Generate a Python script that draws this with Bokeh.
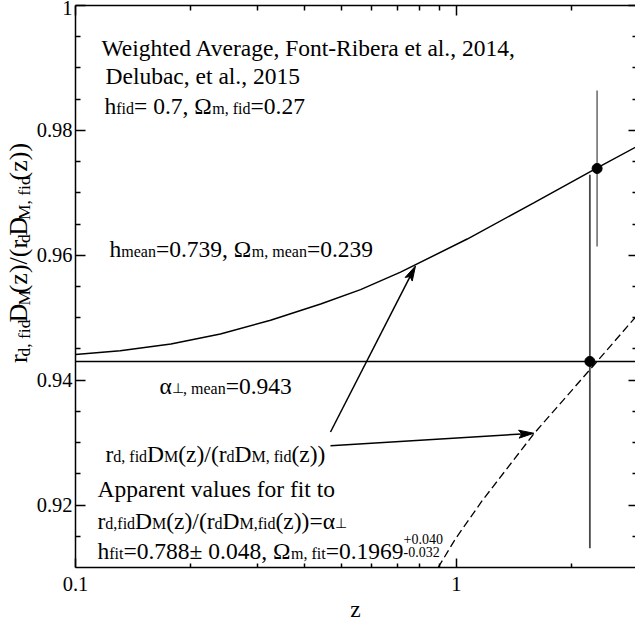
import math
from bokeh.plotting import figure
from bokeh.layouts import row
from bokeh.models import FixedTicker, LogAxis, LinearAxis, Label, CustomJSTickFormatter
from bokeh.embed import file_html
from bokeh.resources import INLINE

# ---------------- data ----------------
curve_z = [0.1, 0.131, 0.178, 0.24, 0.325, 0.44, 0.56, 0.713, 1.067, 1.595, 2.34, 2.95]
curve_y = [0.9441, 0.9447, 0.9458, 0.9474, 0.9496, 0.9522, 0.9545, 0.9573, 0.9626, 0.9684, 0.9740, 0.9773]

fit_z = [0.895, 0.994, 1.168, 1.595, 2.339, 2.95]
fit_y = [0.9100, 0.9146, 0.9207, 0.9314, 0.9430, 0.9501]

alpha_mean = 0.943

point_z = [2.239, 2.339]
point_y = [0.9430, 0.9739]
point_err = [0.0299, 0.0125]
point_err_colors = ["#4a4a4a", "#808080"]

arrow_start_z = [0.467, 0.467]
arrow_start_y = [0.9317, 0.9295]
arrow_end_z = [0.7806, 1.5955]
arrow_end_y = [0.9583, 0.9315]

x_ticks = [0.1, 1.0]
x_tick_labels = ["0.1", "1"]
x_minor = [0.2, 0.3, 0.4, 0.5, 0.6, 0.7, 0.8, 0.9, 2.0, 3.0]
y_ticks = [0.92, 0.94, 0.96, 0.98, 1.0]
y_tick_labels = ["0.92", "0.94", "0.96", "0.98", "1"]
y_minor = [0.915, 0.925, 0.93, 0.935, 0.945, 0.95, 0.955, 0.965, 0.97, 0.975, 0.985, 0.99, 0.995]
x_title = "z"

X0, X1 = 0.1, 2.95
Y0, Y1 = 0.91, 1.0
FONT = "Liberation Serif"
LW = 33  # width of the strip that holds the rotated y title

# ---------------- main figure ----------------
p = figure(width=635 - LW, height=625, x_axis_type="log", x_range=(X0, X1), y_range=(Y0, Y1),
           output_backend="svg", toolbar_location=None,
           min_border_left=75 - LW, min_border_right=0, min_border_top=5, min_border_bottom=58)
p.outline_line_color = None
p.grid.visible = False
p.background_fill_color = "white"
p.border_fill_color = "white"

LOOKUP = """
let best = 0, bd = Infinity;
for (let i = 0; i < tvals.length; i++) {
  const d = Math.abs(tvals[i] - tick);
  if (d < bd) { bd = d; best = i; }
}
return ttext[best];
"""

def style_axis(ax, major_in, minor_in, labels=None, ticks=None):
    ax.axis_line_width = 1.5
    ax.axis_line_color = "black"
    ax.major_tick_line_width = 1.5
    ax.minor_tick_line_width = 1.5
    ax.major_tick_line_color = "black"
    ax.minor_tick_line_color = "black"
    ax.major_tick_in = major_in
    ax.major_tick_out = 0
    ax.minor_tick_in = minor_in
    ax.minor_tick_out = 0
    if labels is not None:
        ax.formatter = CustomJSTickFormatter(args=dict(tvals=ticks, ttext=labels), code=LOOKUP)
        ax.major_label_text_font = FONT
        ax.major_label_text_font_size = "20.5px"
        ax.major_label_text_color = "black"
    else:
        ax.formatter = CustomJSTickFormatter(code="return '';")
        ax.major_label_text_font_size = "1px"
        ax.major_label_standoff = 0

xax = p.xaxis[0]
xax.ticker = FixedTicker(ticks=x_ticks, minor_ticks=x_minor)
style_axis(xax, 9, 4, x_tick_labels, x_ticks)
xax.major_label_standoff = 9
xax.axis_label = x_title
xax.axis_label_text_font = FONT
xax.axis_label_text_font_size = "23.5px"
xax.axis_label_text_font_style = "normal"
xax.axis_label_text_color = "black"
xax.axis_label_standoff = 2

yax = p.yaxis[0]
yax.ticker = FixedTicker(ticks=y_ticks, minor_ticks=y_minor)
style_axis(yax, 10, 5, y_tick_labels, y_ticks)
yax.major_label_standoff = 3

top = LogAxis(ticker=FixedTicker(ticks=x_ticks, minor_ticks=x_minor))
style_axis(top, 10, 5)
p.add_layout(top, "above")

right = LinearAxis(ticker=FixedTicker(ticks=y_ticks, minor_ticks=y_minor))
style_axis(right, 7, 3)
right.axis_line_color = None
p.add_layout(right, "right")

# ---------------- marks ----------------
p.line(curve_z, curve_y, line_color="black", line_width=1.5)
p.line(fit_z, fit_y, line_color="black", line_width=1.3, line_dash="8 4")
p.line([X0, X1], [alpha_mean, alpha_mean], line_color="black", line_width=1.5)

lo = [y - e for y, e in zip(point_y, point_err)]
hi = [y + e for y, e in zip(point_y, point_err)]
p.segment(x0=point_z, y0=lo, x1=point_z, y1=hi, line_color=point_err_colors, line_width=1.8)
p.scatter(point_z, point_y, size=10, marker="circle", fill_color="black", line_color="black")

# pixel helpers for annotations (page pixels)
FL, FR, FT, FB = 75.0, 635.0, 5.0, 567.0
LX0, LX1 = math.log10(X0), math.log10(X1)

def to_px(z, y):
    px = FL + (math.log10(z) - LX0) / (LX1 - LX0) * (FR - FL)
    py = FT + (Y1 - y) / (Y1 - Y0) * (FB - FT)
    return px, py

def to_data(px, py):
    z = 10 ** (LX0 + (px - FL) / (FR - FL) * (LX1 - LX0))
    y = Y1 - (py - FT) / (FB - FT) * (Y1 - Y0)
    return z, y

# arrows
for sz, sy, ez, ey in zip(arrow_start_z, arrow_start_y, arrow_end_z, arrow_end_y):
    x0, y0 = to_px(sz, sy)
    x1, y1 = to_px(ez, ey)
    L = math.hypot(x1 - x0, y1 - y0)
    dx, dy = (x1 - x0) / L, (y1 - y0) / L
    nx, ny = -dy, dx
    hl, hw, notch = 15.0, 4.0, 3.0
    bx, by = x1 - (hl - notch) * dx, y1 - (hl - notch) * dy
    lz, ly = to_data(bx, by)
    p.line([sz, lz], [sy, ly], line_color="black", line_width=1.5)
    pts = [(x1, y1),
           (x1 - hl * dx + hw * nx, y1 - hl * dy + hw * ny),
           (bx, by),
           (x1 - hl * dx - hw * nx, y1 - hl * dy - hw * ny)]
    dpts = [to_data(a, b) for a, b in pts]
    p.patch([q[0] for q in dpts], [q[1] for q in dpts], fill_color="black", line_color="black", line_width=1)

# ---------------- strip for the rotated y title ----------------
ylab = figure(width=LW, height=625, x_range=(0, LW), y_range=(625, 0),
              output_backend="svg", toolbar_location=None,
              x_axis_location=None, y_axis_location=None,
              min_border_left=0, min_border_right=0, min_border_top=0, min_border_bottom=0)
ylab.outline_line_color = None
ylab.grid.visible = False
ylab.background_fill_color = "white"
ylab.border_fill_color = "white"

# ---------------- rich text ----------------
W = {' ': 0.25, ',': 0.25, '.': 0.25, '=': 0.564, '+': 0.564, '-': 0.333, '\u00b1': 0.549,
     '(': 0.333, ')': 0.333, '/': 0.278,
     'a': 0.444, 'b': 0.5, 'c': 0.444, 'd': 0.5, 'e': 0.444, 'f': 0.333, 'g': 0.5, 'h': 0.5,
     'i': 0.278, 'l': 0.278, 'm': 0.778, 'n': 0.5, 'o': 0.5, 'p': 0.5, 'r': 0.333, 's': 0.389,
     't': 0.278, 'u': 0.5, 'v': 0.5, 'z': 0.444, 'A': 0.722, 'D': 0.722, 'F': 0.556,
     'M': 0.889, 'R': 0.667, 'W': 0.944, '\u03a9': 0.768, '\u03b1': 0.54, '\u22a5': 0.80}
for c in "0123456789":
    W[c] = 0.5

def tw(s, size):
    return sum(W.get(c, 0.5) for c in s) * size

def put(text, px, py, size, angle=0.0, align="left", baseline="alphabetic", fig=None):
    if fig is None:
        fig, (x, y) = p, to_data(px, py)
    else:
        x, y = px, py
    fig.add_layout(Label(x=x, y=y, text=text, text_font=FONT, text_font_size=f"{size}px",
                         text_color="black", text_baseline=baseline, text_align=align,
                         angle=angle))

def rich(runs, px, py, main=23.5, sub=16.0, drop=3.0, angle=0.0, fig=None):
    cur = 0.0
    for item in runs:
        text, kind = item[0], item[1]
        if kind == "stack":
            sup_t, sub_t, ssz = item[2], item[3], item[4]
            put(sup_t, px + cur, py - 12, ssz, fig=fig)
            put(sub_t, px + cur, py + 1, ssz, fig=fig)
            cur += max(tw(sup_t, ssz), tw(sub_t, ssz))
            continue
        size = main if kind == "n" else sub
        if len(item) > 2:
            size = item[2]
        d = 0.0 if kind == "n" else drop
        w = tw(text, size)
        if angle == 0.0:
            put(text, px + cur, py + d, size, fig=fig)
        else:
            # centre each rotated run on its own box, so that alignment is unambiguous
            cx = px + d - 0.3375 * size
            cy = py - cur - w / 2.0
            put(text, cx, cy, size, angle=angle, align="center", baseline="middle", fig=fig)
        cur += w

PERP = 13.5
rich([("Weighted Average, Font-Ribera et al., 2014,", "n")], 101, 47)
rich([("Delubac, et al., 2015", "n")], 105, 75)
rich([("h", "n"), ("fid", "s"), ("= 0.7, \u03a9", "n"), ("m, fid", "s"), ("=0.27", "n")], 104, 105)
rich([("h", "n"), ("mean", "s"), ("=0.739, \u03a9", "n"), ("m, mean", "s"), ("=0.239", "n")], 109, 248)
rich([("\u03b1", "n"), ("\u22a5", "s", PERP), (", mean", "s"), ("=0.943", "n")], 159, 385)
rich([("r", "n"), ("d, fid", "s"), ("D", "n"), ("M", "s"), ("(z)/(r", "n"), ("d", "s"),
      ("D", "n"), ("M, fid", "s"), ("(z))", "n")], 105, 453)
rich([("Apparent values for fit to", "n")], 97, 488)
rich([("r", "n"), ("d,fid", "s"), ("D", "n"), ("M", "s"), ("(z)/(r", "n"), ("d", "s"),
      ("D", "n"), ("M,fid", "s"), ("(z))=\u03b1", "n"), ("\u22a5", "s", PERP)], 97, 520)
rich([("h", "n"), ("fit", "s"), ("=0.788\u00b1 0.048, \u03a9", "n"), ("m, fit", "s"), ("=0.1969", "n"),
      ("", "stack", "+0.040", "-0.032", 14)], 97, 550)

# y-axis title (rotated), in the left strip
rich([("r", "n"), ("d, fid", "s"), ("D", "n"), ("M", "s"), ("(z)/(r", "n"), ("d", "s"),
      ("D", "n"), ("M, fid", "s"), ("(z))", "n")], 27, 397, main=26, sub=17.5, drop=2.0,
     angle=math.pi / 2, fig=ylab)

layout = row(ylab, p, spacing=0)
open("out.html", "w").write(file_html(layout, INLINE))
